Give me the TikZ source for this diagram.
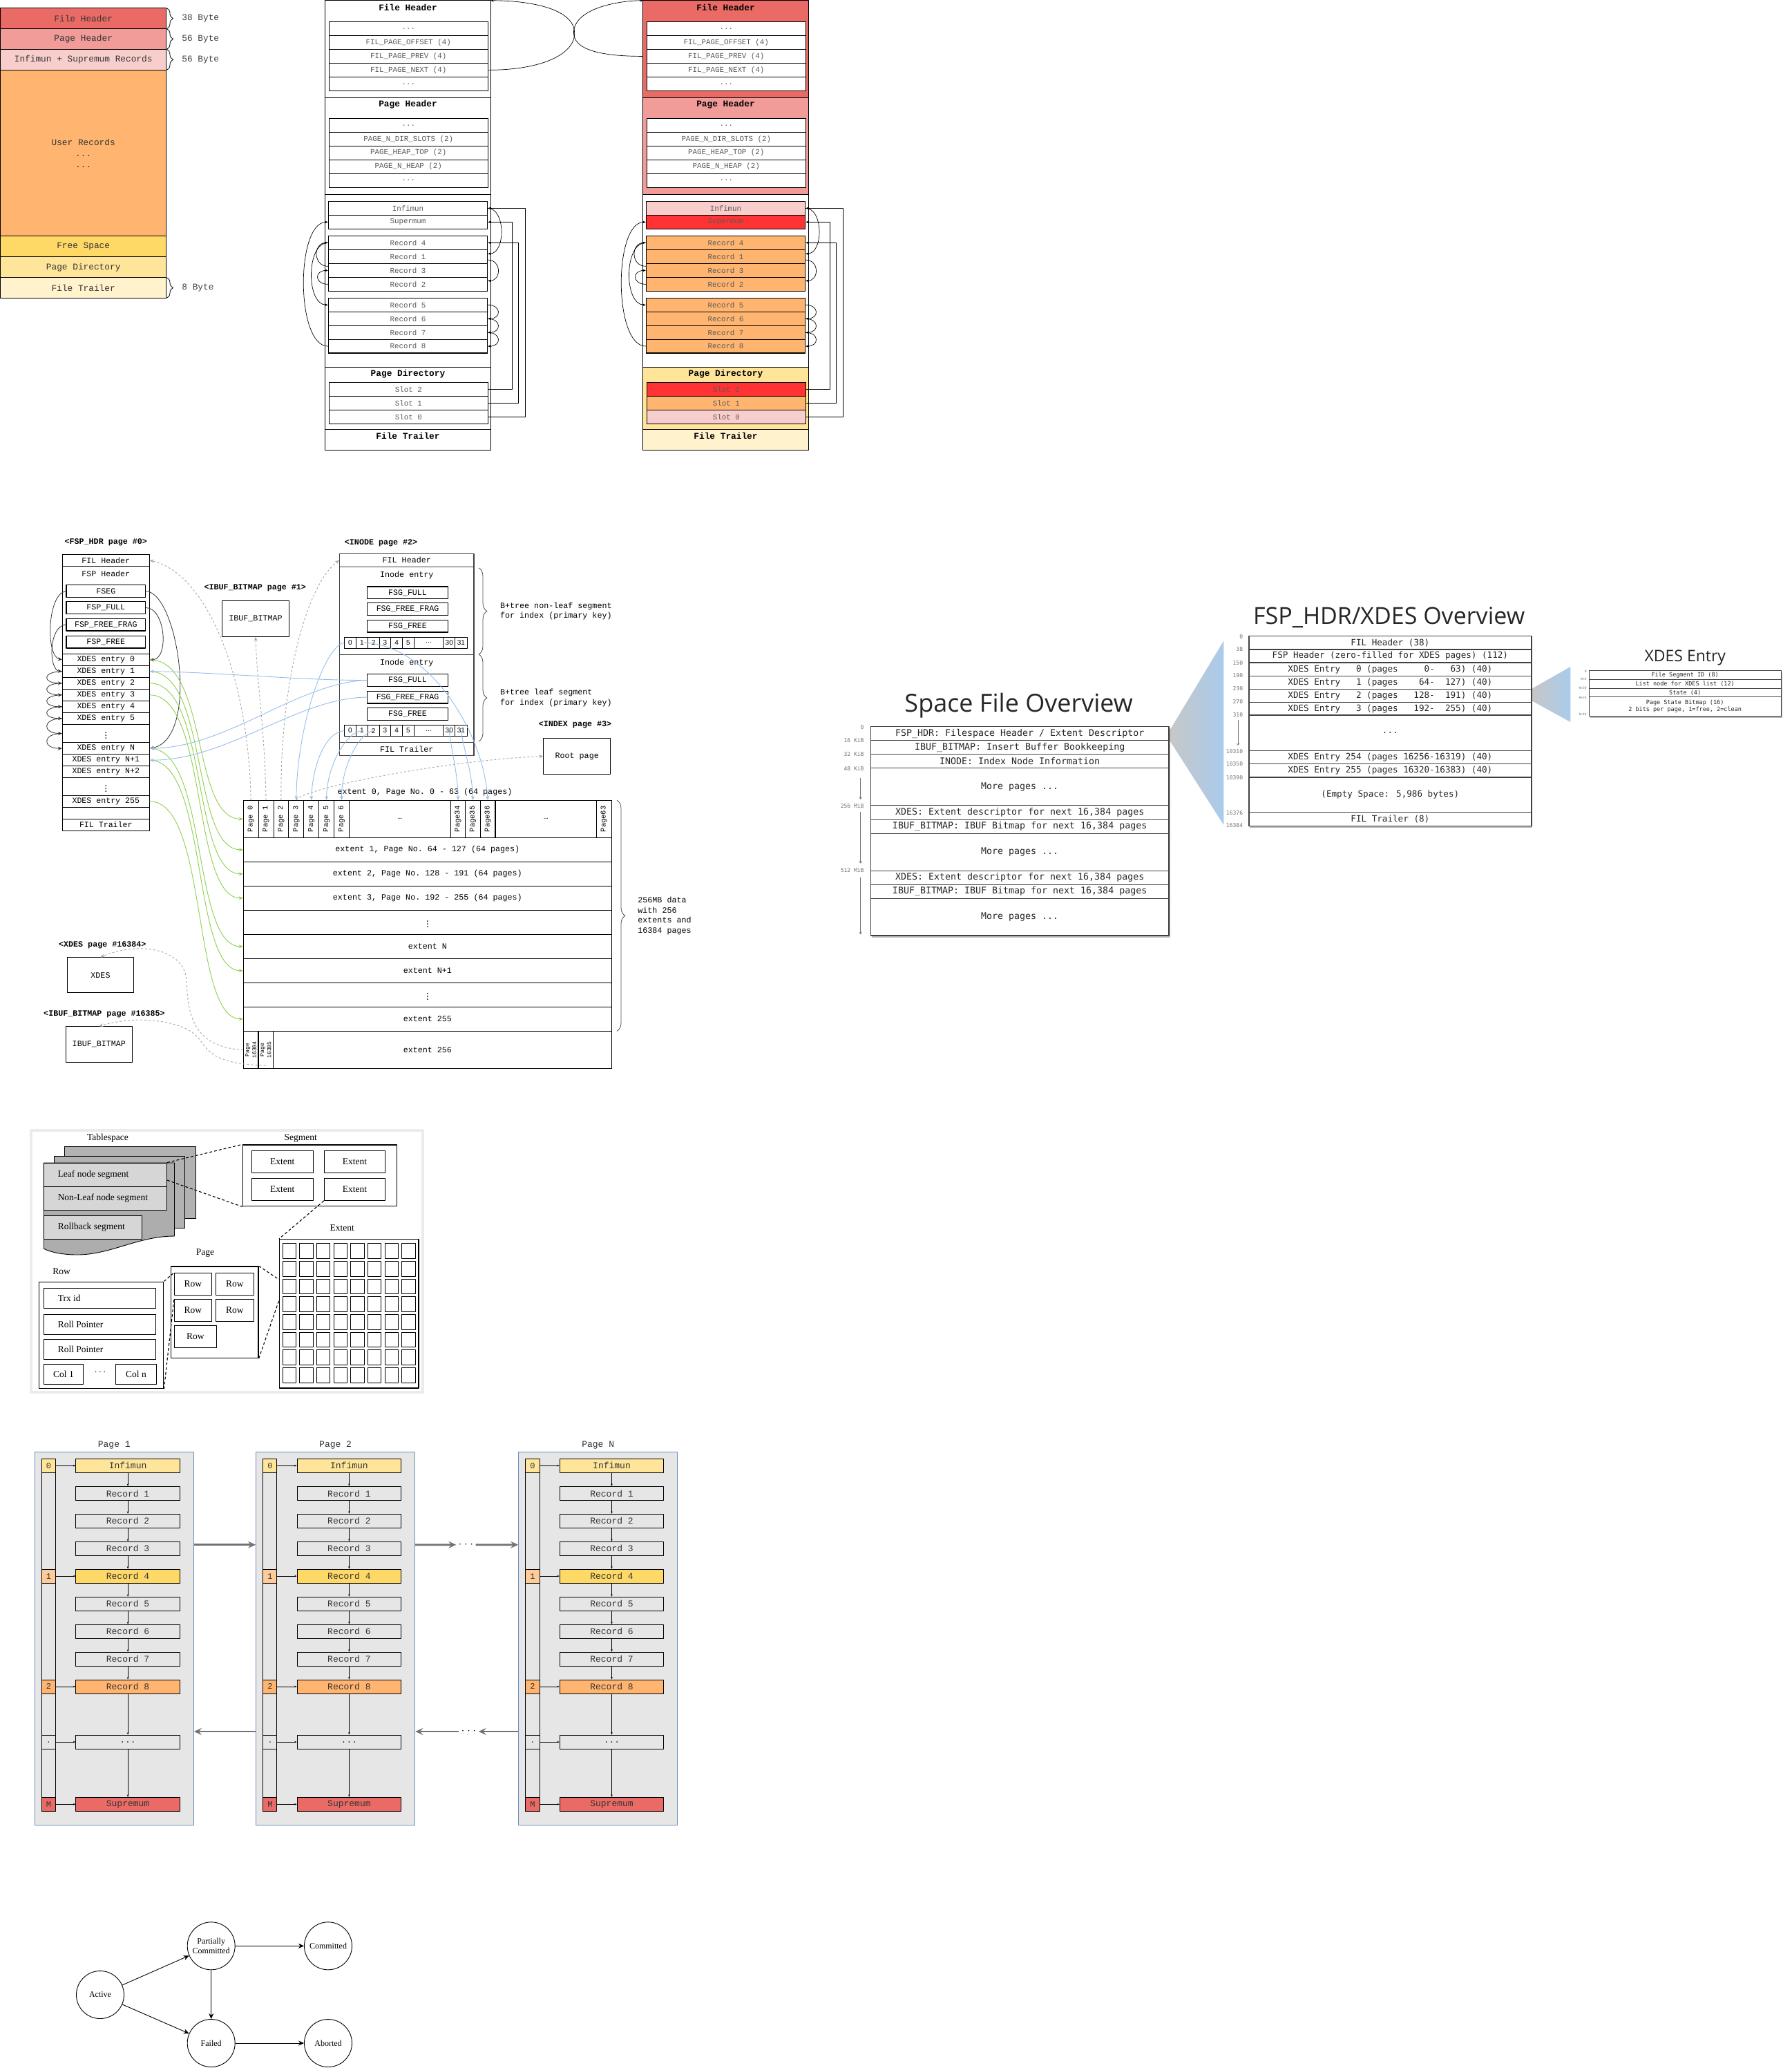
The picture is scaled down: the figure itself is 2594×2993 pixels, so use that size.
\documentclass[tikz,border=0pt]{standalone}
\usepackage{fontspec}
\usepackage{graphicx}
\setmainfont{Liberation Serif}
\setsansfont{Liberation Sans}
\setmonofont{Liberation Mono}
\newfontfamily\ovmono{DejaVu Sans Mono}
\newfontfamily\ovsans{Open Sans}
\usetikzlibrary{arrows.meta,decorations.pathreplacing,shadows,calc,positioning}

\newcommand\fsz[2]{\fontsize{#1}{#2}\selectfont}

% colours
\definecolor{fhred}{HTML}{EA6B66}
\definecolor{phred}{HTML}{F19C99}
\definecolor{recpink}{HTML}{F8CECC}
\definecolor{usrorange}{HTML}{FFB570}
\definecolor{freeyel}{HTML}{FFD966}
\definecolor{diryel}{HTML}{FFE599}
\definecolor{trlyel}{HTML}{FFF2CC}
\definecolor{hotred}{HTML}{FF3333}
\definecolor{slotorange}{HTML}{FFCC99}
\definecolor{lnkgreen}{HTML}{8DD04A}
\definecolor{lnkblue}{HTML}{94BFEA}
\definecolor{fadeblue}{HTML}{A9CBEC}
\definecolor{pgbg}{HTML}{E6E6E6}
\definecolor{pgedge}{HTML}{6C8EBF}

\tikzset{
  % page layout strip
  barlbl/.style={font=\fsz{12.8}{16}\ttfamily, text=black!80, inner sep=0, align=center},
  bytebrace/.style={decorate, decoration={brace, amplitude=9pt}, line width=0.8},
  % index page (fills are switched per page)
  fhfill/.style={}, phfill/.style={}, pdfill/.style={}, ftfill/.style={},
  infcol/.style={}, supcol/.style={}, reccol/.style={},
  s2col/.style={}, s1col/.style={}, s0col/.style={},
  sectitle/.style={font=\fsz{12.8}{14}\ttfamily\bfseries, inner sep=0},
  hrow/.style={draw, fill=white, minimum width=230, minimum height=19.9, inner sep=0, font=\fsz{10.8}{12}\ttfamily, text=black!65},
  ptr/.style={-{Stealth[length=4.5pt,width=3.5pt]}, line width=0.7},
  % space management pages
  pglbl/.style={font=\fsz{11.7}{13}\ttfamily\bfseries, inner sep=0},
  xrow/.style={draw, minimum width=126, inner sep=0, font=\fsz{11.6}{13}\ttfamily},
  ibox/.style={draw, line width=1.2, minimum width=114.7, minimum height=17.8, inner sep=0, font=\fsz{11.6}{13}\ttfamily},
  irow/.style={draw=black!75, line width=1.2, minimum width=194.3, inner sep=0, font=\fsz{11.7}{13}\ttfamily},
  fragcell/.style={draw, minimum height=15.7, inner sep=0, font=\fsz{10}{11}\sffamily},
  erow/.style={draw, minimum width=533.3, minimum height=35, inner sep=0, font=\fsz{11.7}{13}\ttfamily},
  pcol/.style={draw, minimum width=21.9, minimum height=54, inner sep=0, font=\fsz{10.5}{11}\ttfamily},
  plainbox/.style={draw, inner sep=0, font=\fsz{11.7}{13}\ttfamily},
  sidenote/.style={font=\fsz{11.7}{14.5}\ttfamily, align=left, inner sep=0},
  sidebrace/.style={decorate, decoration={brace, amplitude=12pt}, draw=black!70, line width=0.8},
  dkptr/.style={-{Stealth[length=6pt,width=5pt]}, draw=black!80, line width=0.8},
  grnptr/.style={-{Stealth[length=6pt,width=5pt]}, draw=lnkgreen, line width=0.9},
  bluptr/.style={-{Stealth[length=6pt,width=5pt]}, draw=lnkblue, line width=0.9},
  gryptr/.style={-{Stealth[length=6pt,width=5pt]}, draw=black!35, dashed, line width=0.9},
  % overview slides
  bigttl/.style={inner sep=0, text=black!85},
  ovbox/.style={draw=black!75, line width=1.4, fill=white, inner sep=0, drop shadow={shadow xshift=1.5pt, shadow yshift=-2.5pt, opacity=0.55}},
  ovrow/.style={draw=black!75, line width=1.1, inner sep=0, text=black!85},
  offlbl/.style={font=\fsz{8}{9}\ovmono, text=black!55, inner sep=0},
  offarr/.style={-{Straight Barb[length=3pt,width=4pt]}, draw=black!55, line width=0.6},
  % tablespace sketch
  tsl/.style={font=\fsz{13.5}{15}\rmfamily, inner sep=0},
  tsbox/.style={draw, line width=1, inner sep=0, font=\fsz{13.5}{15}\rmfamily},
  tsdash/.style={line width=1.1, dash pattern=on 4pt off 3pt},
  % page chain
  chttl/.style={font=\fsz{13}{14}\ttfamily, text=black!80, inner sep=0},
  chbox/.style={draw=pgedge, fill=pgbg, minimum width=230.2, minimum height=540.2, inner sep=0},
  chrec/.style={draw, minimum width=150.4, minimum height=20, inner sep=0, font=\fsz{13}{14}\ttfamily, text=black!80},
  chslot/.style={draw, minimum width=20.1, minimum height=20, inner sep=0, font=\fsz{12}{13}\ttfamily, text=black!80},
  chptr/.style={-{Stealth[length=3.5pt,width=2.5pt]}, line width=0.6},
  bigarr/.style={-{Stealth[length=11pt,width=10pt,inset=4pt]}, draw=black!55, line width=2.6},
  % transaction states
  txstate/.style={circle, draw, minimum size=69, inner sep=0, align=center, font=\fsz{12}{13.5}\rmfamily},
  stptr/.style={-{Stealth[length=8pt,width=7pt]}, line width=0.9}
}

% one index page with its record list and page directory
\newcommand\idxpage[1]{%
  \draw[fhfill] (470.7,0.8) rectangle (710.3,141.4);
  \draw[phfill] (470.7,141.4) rectangle (710.3,281.6);
  \draw (470.7,281.6) rectangle (710.3,531.6);
  \draw[pdfill] (470.7,531.6) rectangle (710.3,621.3);
  \draw[ftfill] (470.7,621.3) rectangle (710.3,651.1);
  \coordinate (#1tl) at (470.7,0.8);
  \coordinate (#1tr) at (710.3,0.8);
  \node[sectitle] (#1fh) at (590.5,10.9) {File Header};
  \node[sectitle] (#1ph) at (590.5,151.1) {Page Header};
  \node[sectitle] (#1pd) at (590.5,541.3) {Page Directory};
  \node[sectitle] (#1ft) at (590.5,631.4) {File Trailer};
  \foreach \nm/\txt [count=\ii from 0] in {fa/{...}, off/FIL\_PAGE\_OFFSET (4), prev/FIL\_PAGE\_PREV (4), next/FIL\_PAGE\_NEXT (4), fb/{...}}
    \node[hrow] (#1\nm) at (591.3,41.55+19.94*\ii) {\txt};
  \foreach \nm/\txt [count=\ii from 0] in {pa/{...}, slots/PAGE\_N\_DIR\_SLOTS (2), top/PAGE\_HEAP\_TOP (2), heap/PAGE\_N\_HEAP (2), pb/{...}}
    \node[hrow] (#1\nm) at (591.3,181.3+19.94*\ii) {\txt};
  \foreach \nm/\txt/\yy/\stl in {inf/Infimun/301.4/infcol, sup/Supermum/321.4/supcol, r4/Record 4/351.3/reccol, r1/Record 1/371.2/reccol, r3/Record 3/391.4/reccol, r2/Record 2/411.4/reccol, r5/Record 5/441.3/reccol, r6/Record 6/461.3/reccol, r7/Record 7/481.3/reccol, r8/Record 8/501.1/reccol}
    \node[hrow, minimum width=230.4, \stl] (#1\nm) at (590.5,\yy) {\txt};
  \foreach \nm/\txt/\yy/\stl in {s2/Slot 2/563.4/s2col, s1/Slot 1/583.4/s1col, s0/Slot 0/603.4/s0col}
    \node[hrow, \stl] (#1\nm) at (591.3,\yy) {\txt};
  \draw[line width=1.2] (476.3,31.6) rectangle (706.3,131.3) (476.3,171.3) rectangle (706.3,271.5)
    (475.3,291.3) rectangle (705.7,331.3) (475.3,341.4) rectangle (705.7,421.3)
    (475.3,431.4) rectangle (705.7,511) (476.3,553.5) rectangle (706.3,613.3);
  % directory slots
  \draw[ptr] (#1s2.east) -- ++(34.4,0) |- (#1sup.east);
  \draw[ptr] (#1s1.east) -- ++(44,0) |- (#1r4.east);
  \draw[ptr] (#1s0.east) -- ++(54,0) |- (#1inf.east);
  % record list
  \draw[ptr] (#1inf.east) .. controls +(26,0) and +(26,0) .. ([yshift=4pt]#1r1.east);
  \draw[ptr] ([yshift=-5pt]#1r1.east) .. controls +(20,0) and +(20,0) .. ([yshift=5pt]#1r2.east);
  \draw[ptr] (#1r2.west) .. controls +(-20,0) and +(-20,0) .. (#1r3.west);
  \draw[ptr] ([yshift=6pt]#1r3.west) .. controls +(-22,0) and +(-22,0) .. (#1r4.west);
  \draw[ptr] (#1r4.west) .. controls +(-32,0) and +(-32,0) .. (#1r5.west);
  \draw[ptr] (#1r5.east) .. controls +(20,0) and +(20,0) .. (#1r6.east);
  \draw[ptr] (#1r6.east) .. controls +(20,0) and +(20,0) .. (#1r7.east);
  \draw[ptr] (#1r7.east) .. controls +(20,0) and +(20,0) .. (#1r8.east);
  \draw[ptr] (#1r8.west) .. controls +(-47,0) and +(-47,0) .. (#1sup.west);
}

% one page of the leaf level with its slots
\newcommand\pagechain[3]{%
  \begin{scope}[shift={(#1,0)}]
    \node[chttl] (#2ttl) at (165.3,2091.4) {#3};
    \node[chbox] (#2box) at (165.3,2371.6) {};
    \draw (60.5,2111.2) rectangle (80.6,2621.3);
    \foreach \nm/\txt/\yy/\cl in {inf/Infimun/2121.2/diryel, r1/Record 1/2161.35/pgbg, r2/Record 2/2201.3/pgbg, r3/Record 3/2241.3/pgbg, r4/Record 4/2281.05/freeyel, r5/Record 5/2321.25/pgbg, r6/Record 6/2361.2/pgbg, r7/Record 7/2401.15/pgbg, r8/Record 8/2440.95/usrorange, dd/{...}/2521.1/pgbg, sup/Supremum/2611.25/fhred}
      \node[chrec, fill=\cl] (#2\nm) at (185.1,\yy) {\txt};
    \foreach \src/\dst in {inf/r1, r1/r2, r2/r3, r3/r4, r4/r5, r5/r6, r6/r7, r7/r8, r8/dd, dd/sup}
      \draw[chptr] (#2\src) -- (#2\dst);
    \foreach \nm/\txt/\yy/\cl/\dst in {s0/0/2121.2/diryel/inf, s1/1/2281.05/slotorange/r4, s2/2/2440.95/usrorange/r8, sd/./2521.1/pgbg/dd, sM/M/2611.25/fhred/sup}
      {\node[chslot, fill=\cl] (#2\nm) at (70.55,\yy) {\txt};
       \draw[chptr] (#2\nm) -- (#2\dst);}
  \end{scope}}

\begin{document}
\begin{tikzpicture}[x=1pt, y=-1pt, line width=0.9, line join=round]
\fill[white] (0,0) rectangle (2594,2993);
\useasboundingbox (0,0) rectangle (2594,2993);

%%%%% PAGE LAYOUT %%%%%
\foreach \ya/\yb/\cl/\txt [count=\ii] in {11.7/41.7/fhred/File Header, 41.7/71.3/phred/Page Header, 71.3/101.3/recpink/Infimun + Supremum Records, 101.3/341.7/usrorange/{User Records\\...\\...}, 341.7/371.7/freeyel/Free Space, 371.7/401.7/diryel/Page Directory, 401.7/431.3/trlyel/File Trailer}
{
  \draw[fill=\cl] (0.7,\ya) rectangle (240.7,\yb);
  \node[barlbl] (bar\ii) at (120.7,{(\ya+\yb)/2}) {\txt};
}
\foreach \ya/\yb/\txt in {11.7/41.7/38 Byte, 41.7/71.3/56 Byte, 71.3/101.3/56 Byte, 401.7/431.3/8 Byte}
  \draw[bytebrace] (241.5,\ya) -- (241.5,\yb) node[midway, anchor=west, xshift=21.5pt, barlbl, text=black!75] {\txt};

%%%%% TWO INDEX PAGES %%%%%
\idxpage{L}
\begin{scope}[shift={(460,0)}, fhfill/.style={fill=fhred}, phfill/.style={fill=phred}, pdfill/.style={fill=diryel}, ftfill/.style={fill=trlyel}, infcol/.style={fill=recpink}, supcol/.style={fill=hotred}, reccol/.style={fill=usrorange}, s2col/.style={fill=hotred}, s1col/.style={fill=usrorange}, s0col/.style={fill=recpink}]
  \idxpage{R}
\end{scope}
\draw[ptr] (Lnext.east) .. controls (790,101.4) and (838,75) .. (831,42) .. controls (824,10) and (760,0.8) .. (Ltr);
\draw[ptr] (Rprev.west -| Rtl) .. controls (880,81.5) and (824,75) .. (831,42) .. controls (838,10) and (900,0.8) .. (Rtl);

%%%%% FSP_HDR PAGE %%%%%
\node[pglbl] (fsplbl) at (153.3,784.7) {<FSP\_HDR page \#0>};
\node[xrow, minimum height=17.4] (xfil) at (153.3,811) {FIL Header};
\node[xrow, minimum height=126.6] (xfsp) at (153.3,883) {};
\node[inner sep=0, font=\fsz{11.6}{13}\ttfamily] (xfspt) at (153.3,830.7) {FSP Header};
\foreach \nm/\txt/\yy in {fseg/FSEG/855.5, ffull/FSP\_FULL/879.5, ffrag/FSP\_FREE\_FRAG/904, ffree/FSP\_FREE/929}
  \node[ibox] (\nm) at (153.3,\yy) {\txt};
\foreach \nm/\txt/\yy/\hh in {x0/XDES entry 0/954.8/17, x1/XDES entry 1/971.8/17, x2/XDES entry 2/988.8/17, x3/XDES entry 3/1005.8/17, x4/XDES entry 4/1022.8/17, x5/XDES entry 5/1039.8/17, xd1/\vdots/1061.5/26.4, xN/XDES entry N/1083.2/17, xN1/XDES entry N+1/1100.2/17, xN2/XDES entry N+2/1117.2/17, xd2/\vdots/1138.5/25.6, x255/XDES entry 255/1159.8/17, xb//1176.8/17, xtr/FIL Trailer/1193.8/17}
  \node[xrow, minimum height=\hh] (\nm) at (153.3,\yy) {\txt};
\draw[dkptr] (fseg.west) .. controls (68,860) and (66,950) .. (x0.west);
\draw[dkptr] (ffrag.west) .. controls (70,906) and (70,970) .. (x1.west);
\draw[dkptr] (fseg.east) .. controls (258,858) and (290,1070) .. (xN.east);
\draw[dkptr] (ffull.east) .. controls (240,880) and (245,955) .. (x0.east);
\foreach \src/\dst in {x1/x2, x2/x3, x3/x4, x4/x5, x5/xd1, xd1/xN}
  \draw[dkptr] (\src.west) .. controls +(-29,0) and +(-29,0) .. (\dst.west);

%%%%% IBUF_BITMAP / INODE / INDEX %%%%%
\node[pglbl] (ibuflbl) at (369.3,851.3) {<IBUF\_BITMAP page \#1>};
\node[plainbox, minimum width=97.4, minimum height=52.3] (ibuf) at (370,895.2) {IBUF\_BITMAP};

\node[pglbl] (inolbl) at (551.6,785.7) {<INODE page \#2>};
\node[irow, minimum height=19] (ifil) at (588.75,810.8) {FIL Header};
\node[irow, minimum height=127] (ino1) at (588.75,883.8) {};
\node[irow, minimum height=127.4] (ino2) at (588.75,1011) {};
\node[irow, minimum height=19] (itr) at (588.75,1084.2) {FIL Trailer};
\foreach \kk/\yy in {1/832, 2/959.7}
  \node[inner sep=0, font=\fsz{11.7}{13}\ttfamily] (inot\kk) at (588.75,\yy) {Inode entry};
\foreach \kk/\ya/\yb/\yc/\yv in {1/857.9/881.5/906/930.2, 2/984.5/1009/1033.5/1057.5} {
  \node[ibox, minimum width=116.6] (ifull\kk) at (590,\ya) {FSG\_FULL};
  \node[ibox, minimum width=116.6] (ifrag\kk) at (590,\yb) {FSG\_FREE\_FRAG};
  \node[ibox, minimum width=116.6] (ifree\kk) at (590,\yc) {FSG\_FREE};
  \foreach \nm/\xx/\ww/\txt in {0/507/16.8/0, 1/523.8/16.8/1, 2/540.6/16.8/2, 3/557.4/16.8/3, 4/574.2/16.8/4, 5/591/16.8/5, d/620.55/42.3/{…}, 30/650.3/17.2/30, 31/667.45/17.1/31}
    \node[fragcell, minimum width=\ww] (a\kk-\nm) at (\xx,\yv) {\txt};
}
\draw[sidebrace] (693,822) -- (693,947) node[midway, anchor=west, xshift=30.7pt, sidenote] {B+tree non-leaf segment\\for index (primary key)};
\draw[sidebrace] (693,947) -- (693,1073) node[midway, anchor=west, xshift=30.7pt, sidenote] {B+tree leaf segment\\for index (primary key)};

\node[pglbl, anchor=east] (rootlbl) at (885.6,1049) {<INDEX page \#3>};
\node[plainbox, minimum width=97.2, minimum height=51.6] (root) at (835.2,1094.5) {Root page};

%%%%% EXTENTS %%%%%
\node[inner sep=0, font=\fsz{11.7}{13}\ttfamily] (e0lbl) at (615,1146.3) {extent 0, Page No. 0 - 63 (64 pages)};
\node[erow, minimum height=54] (e0) at (618.85,1185.3) {};
\foreach \nm/\txt/\yy in {e1/extent 1{,} Page No. 64 - 127 (64 pages)/1229.8, e2/extent 2{,} Page No. 128 - 191 (64 pages)/1264.8, e3/extent 3{,} Page No. 192 - 255 (64 pages)/1299.8, ed1/\vdots/1334.8, eN/extent N/1369.8, eN1/extent N+1/1404.8, ed2/\vdots/1439.8, e255/extent 255/1474.8}
  \node[erow] (\nm) at (618.85,\yy) {\txt};
\node[erow, minimum height=54.4] (e256) at (618.85,1519.5) {extent 256};
\foreach \kk in {0,...,6}
  \node[pcol] (p\kk) at ({363.15+21.9*\kk},1185.3) {\rotatebox{90}{Page \kk}};
\foreach \kk/\xx in {34/663.05, 35/684.55, 36/706.1}
  \node[pcol, minimum width=21.6] (p\kk) at (\xx,1185.3) {\rotatebox{90}{Page\kk}};
\node[pcol, minimum width=146.8] (pd1) at (578.9,1185.3) {…};
\node[pcol, minimum width=145.9] (pd2) at (790.15,1185.3) {…};
\node[pcol, minimum width=22.4] (p63) at (874.3,1185.3) {\rotatebox{90}{Page63}};
\node[pcol, minimum height=54.4, font=\fsz{8.2}{9}\ttfamily] (p16384) at (363.15,1519.5) {\rotatebox{90}{\shortstack{Page\\16384}}};
\node[pcol, minimum height=54.4, font=\fsz{8.2}{9}\ttfamily] (p16385) at (384.6,1519.5) {\rotatebox{90}{\shortstack{Page\\16385}}};
\draw[sidebrace] (893,1158.3) -- (893,1492.3) node[midway, anchor=west, xshift=30pt, sidenote] {256MB data\\with 256\\extents and\\16384 pages};

\node[pglbl] (xdeslbl) at (148.3,1368.3) {<XDES page \#16384>};
\node[plainbox, minimum width=96.4, minimum height=51] (xdes) at (145.5,1411.2) {XDES};
\node[pglbl] (ibuf2lbl) at (151,1467.7) {<IBUF\_BITMAP page \#16385>};
\node[plainbox, minimum width=96.7, minimum height=51.6] (ibuf2) at (143.35,1511.5) {IBUF\_BITMAP};

% descriptors to extents
\foreach \src/\dst in {x0/e0, x1/e1, x2/e2, x3/e3, xN/eN, xN1/eN1, x255/e255}
  \draw[grnptr] (\src.east) .. controls +(85,0) and +(-75,0) .. (\dst.west);
% segments to descriptors and pages
\draw[bluptr] (ifull2.west) .. controls (440,985) and (300,972) .. (x1.east);
\draw[bluptr] (ifull2.west) .. controls (430,988) and (330,1082) .. (xN.east);
\draw[bluptr] (ifrag2.west) .. controls (430,1010) and (330,1100) .. (xN1.east);
\draw[bluptr] (a1-0.west) .. controls (470,935) and (430,1050) .. (p3.north);
\draw[bluptr] (a1-1.center) .. controls (620,930) and (700,1060) .. (p36.north);
\draw[bluptr] (a2-0.west) .. controls (470,1060) and (452,1110) .. (p4.north);
\draw[bluptr] (a2-1.center) .. controls (500,1060) and (473,1110) .. (p5.north);
\draw[bluptr] (a2-2.center) .. controls (520,1060) and (494,1110) .. (p6.north);
\draw[bluptr] (a2-30.center) .. controls (652,1080) and (663,1120) .. (p34.north);
\draw[bluptr] (a2-31.center) .. controls (670,1080) and (684,1120) .. (p35.north);
% pages to their page objects
\draw[gryptr] (p0.north) .. controls (360,980) and (300,830) .. (xfil.east);
\draw[gryptr] (p1.north) .. controls (383,1050) and (372,990) .. (ibuf.south);
\draw[gryptr] (p2.north) .. controls (405,1000) and (440,850) .. (ifil.west);
\draw[gryptr] (p3.north) .. controls (440,1140) and (650,1100) .. (root.west);
\draw[gryptr] (p16384.west) .. controls (280,1515) and (272,1470) .. (270,1420) .. controls (268,1372) and (200,1362) .. (xdes.north);
\draw[gryptr] ([yshift=5pt]p16385.south) .. controls (300,1540) and (300,1515) .. (285,1500) .. controls (265,1478) and (200,1468) .. (ibuf2.north);

%%%%% SPACE FILE OVERVIEW %%%%%
\shade[left color=black!22, right color=fadeblue] (1692,1059) -- (1771.4,927.3) -- (1771.4,1194) -- (1692,1070) -- cycle;
\shade[left color=black!22, right color=fadeblue] (2216.8,997) -- (2273.3,965) -- (2273.3,1045) -- (2216.8,1014) -- cycle;

\node[bigttl, font=\fsz{36}{40}\ovsans] (sfottl) at (1474.7,1021.3) {Space File Overview};
\node[ovbox, minimum width=431.7, minimum height=302.7] (sfo) at (1476.15,1202.65) {};
\foreach \nm/\yy/\hh/\txt in {sfo1/1061.5/20.4/{FSP\_HDR: Filespace Header / Extent Descriptor},
  sfo2/1081.7/20/{IBUF\_BITMAP: Insert Buffer Bookkeeping},
  sfo3/1101.7/20/{INODE: Index Node Information},
  sfo4/1138.7/54/{More pages ...},
  sfo5/1176/20.6/{XDES: Extent descriptor for next 16,384 pages},
  sfo6/1196.3/20/{IBUF\_BITMAP: IBUF Bitmap for next 16,384 pages},
  sfo7/1233.3/54/{More pages ...},
  sfo8/1270.3/20/{XDES: Extent descriptor for next 16,384 pages},
  sfo9/1290.3/20/{IBUF\_BITMAP: IBUF Bitmap for next 16,384 pages},
  sfo10/1327.15/53.7/{More pages ...}}
  \node[ovrow, minimum width=431.7, minimum height=\hh, font=\fsz{13.3}{15}\ovmono] (\nm) at (1476.15,\yy) {\txt};
\foreach \txt/\yy in {0/1053, 16 KiB/1071.3, 32 KiB/1092, 48 KiB/1112.3, 256 MiB/1167, 512 MiB/1259.7}
  \node[offlbl, anchor=east] at (1251,\yy) {\txt};
\foreach \ya/\yb in {1125.7/1157, 1175/1249.7, 1270/1352.3}
  \draw[offarr] (1245.7,\ya) -- (1245.7,\yb);

%%%%% FSP_HDR/XDES OVERVIEW %%%%%
\node[bigttl, font=\fsz{34}{38}\ovsans] (fxottl) at (2010.7,894) {FSP\_HDR/XDES Overview};
\node[ovbox, minimum width=408.9, minimum height=275] (fxo) at (2012.35,1058.2) {};
\foreach \nm/\yy/\hh/\txt in {fx1/930.35/19.3/{FIL Header (38)},
  fx2/949.5/19/{FSP Header (zero-filled for XDES pages) (112)},
  fx3/968.65/19.3/{XDES Entry~~~0 (pages~~~~~0-~~~63) (40)},
  fx4/987.8/19/{XDES Entry~~~1 (pages~~~~64-~~127) (40)},
  fx5/1006.8/19/{XDES Entry~~~2 (pages~~~128-~~191) (40)},
  fx6/1025.65/18.7/{XDES Entry~~~3 (pages~~~192-~~255) (40)},
  fx7/1060.65/51.3/{...},
  fx8/1096/19.4/{XDES Entry 254 (pages 16256-16319) (40)},
  fx9/1115.35/19.3/{XDES Entry 255 (pages 16320-16383) (40)},
  fx10/1150.35/50.7/{(Empty Space: 5,986 bytes)},
  fx11/1185.7/20/{FIL Trailer (8)}}
  \node[ovrow, minimum width=408.9, minimum height=\hh, font=\fsz{12.6}{14}\ovmono] (\nm) at (2012.35,\yy) {\txt};
\foreach \txt/\yy in {0/921.7, 38/940, 150/959.3, 190/978, 230/997, 270/1016, 310/1035, 10310/1087.7, 10350/1106, 10390/1125.7, 16376/1176.3, 16384/1194.7}
  \node[offlbl, anchor=east] at (1799.5,\yy) {\txt};
\draw[offarr] (1792,1042.3) -- (1792,1079);

%%%%% XDES ENTRY %%%%%
\node[bigttl, font=\fsz{23}{26}\ovsans] (xettl) at (2439.3,951.7) {XDES Entry};
\node[ovbox, line width=1, minimum width=278.3, minimum height=65.3] (xeo) at (2439.15,1003.35) {};
\foreach \nm/\yy/\hh/\txt in {xe1/977/12.6/{File Segment ID (8)},
  xe2/989.65/12.7/{List node for XDES list (12)},
  xe3/1002.35/12.7/{State (4)},
  xe4/1022.35/27.3/{Page State Bitmap (16)\\2 bits per page, 1=free, 2=clean}}
  \node[ovrow, line width=0.8, align=center, minimum width=278.3, minimum height=\hh, font=\fsz{8.5}{10.5}\ovmono] (\nm) at (2439.15,\yy) {\txt};
\foreach \txt/\yy in {N/971.7, N+8/983.3, N+20/996, N+24/1010, N+40/1034.3}
  \node[offlbl, anchor=east, font=\fsz{4.5}{5}\ovmono] at (2297,\yy) {\txt};

%%%%% TABLESPACE SKETCH %%%%%
\draw[draw=black!8, line width=4, fill=white] (45.4,1636.3) rectangle (611.5,2014.7);
\node[tsl] (tslbl) at (156,1647) {Tablespace};
\draw[fill=black!30] (93.7,1659.7) rectangle (283,1763);
\draw[fill=black!30] (78.8,1673) rectangle (267,1777);
\draw[fill=black!32] (63.2,1683) -- (252.5,1683) -- (252.5,1789) .. controls (200,1789) and (160,1816) .. (112,1816) .. controls (90,1816) and (72,1812) .. (63.2,1807) -- cycle;
\foreach \nm/\txt/\xx/\yy/\ww/\hh in {leaf/Leaf node segment/152.3/1700/178.2/34, nonleaf/Non-Leaf node segment/152.3/1734.15/178.2/34.3, rollb/Rollback segment/134.1/1776.7/141.8/34}
{
  \node[tsbox, fill=black!16, minimum width=\ww, minimum height=\hh] (\nm) at (\xx,\yy) {};
  \node[tsl, anchor=west] at (83.3,\yy) {\txt};
}
\node[tsl] (seglbl) at (435.2,1647) {Segment};
\node[tsbox, line width=1.5, minimum width=222.7, minimum height=88.7] (seg) at (463.05,1701.35) {};
\foreach \nm/\xx/\yy in {sa/408.85/1681.15, sb/513.5/1681.15, sc/408.85/1721.5, sd/513.5/1721.5}
  \node[tsbox, minimum width=88.3, minimum height=31.7] (\nm) at (\xx,\yy) {Extent};
\draw[tsdash] (leaf.north east) -- (seg.north west);
\draw[tsdash] ([yshift=-8pt]leaf.east) -- (seg.south west);

\node[tsl] (extlbl) at (495.3,1777) {Extent};
\node[tsbox, line width=1.5, minimum width=201.2, minimum height=215.3] (grid) at (505.3,1901.35) {};
\foreach \ii in {0,...,7}
  \foreach \jj in {0,...,7}
    \draw (409.2+24.66*\ii,1799.7+25.7*\jj) rectangle ++(19.3,21.7);
\draw[tsdash] (sd.south west) -- (grid.north west);

\node[tsl] (pglbl2) at (297.1,1814) {Page};
\node[tsbox, line width=1.5, minimum width=126.2, minimum height=132.3] (pg) at (310.8,1899.15) {};
\foreach \nm/\xx/\yy/\ww in {ra/279.25/1858.5/53.5, rb/339.95/1858.5/54.5, rc/279.25/1896.3/53.5, rd/339.95/1896.3/54.5, re/282.95/1934.35/60.9}
  \node[tsbox, minimum width=\ww, minimum height=32.3] (\nm) at (\xx,\yy) {Row};
\coordinate (gc1) at (404.7,1852.3);
\coordinate (gc2) at (404.7,1879.7);
\draw[tsdash] (pg.north east) -- (gc1);
\draw[tsdash] (pg.south east) -- (gc2);

\node[tsl] (rowlbl) at (89.2,1839.7) {Row};
\node[tsbox, line width=1.5, minimum width=180, minimum height=154.4] (rowbox) at (146.6,1932.5) {};
\foreach \nm/\txt/\yy in {trx/Trx id/1879.2, rp1/Roll Pointer/1917.3, rp2/Roll Pointer/1952.65}
{
  \node[tsbox, minimum width=162.3, minimum height=29.3] (\nm) at (144.35,\yy) {};
  \node[tsl, anchor=west] at (83.3,\yy) {\txt};
}
\node[tsbox, minimum width=57.6, minimum height=29] (col1) at (92,1988.5) {Col 1};
\node[tsl] (coldots) at (144.9,1986) {$\cdots$};
\node[tsbox, minimum width=58.3, minimum height=29] (coln) at (197.05,1988.5) {Col n};
\draw[tsdash] (rowbox.north east) -- (ra.north west);
\draw[tsdash] (rowbox.south east) -- (rc.north west);

%%%%% PAGE CHAIN %%%%%
\pagechain{0}{pa}{Page 1}
\pagechain{320.3}{pb}{Page 2}
\pagechain{700.4}{pn}{Page N}
\node[inner sep=4pt, font=\fsz{7}{7}] (dt) at (674.4,2235.7) {\textbullet\hspace{6pt}\textbullet\hspace{6pt}\textbullet};
\node[inner sep=4pt, font=\fsz{7}{7}] (db) at (678.5,2506) {\textbullet\hspace{6pt}\textbullet\hspace{6pt}\textbullet};
\draw[bigarr] ([yshift=135.9pt]pabox.east) -- ([yshift=135.9pt]pbbox.west);
\draw[bigarr] ([yshift=135.9pt]pbbox.east) -- (dt.west);
\draw[bigarr] (dt.east) -- ([yshift=135.9pt]pnbox.west);
\draw[bigarr] ([yshift=-134.4pt]pbbox.west) -- ([yshift=-134.4pt]pabox.east);
\draw[bigarr] ([yshift=-134.4pt]pnbox.west) -- (db.east);
\draw[bigarr] (db.west) -- ([yshift=-134.4pt]pbbox.east);

%%%%% TRANSACTION STATES %%%%%
\node[txstate] (act) at (145,2887) {Active};
\node[txstate] (pcom) at (305.7,2816.3) {Partially\\Committed};
\node[txstate] (com) at (475,2816.3) {Committed};
\node[txstate] (fail) at (305.7,2957) {Failed};
\node[txstate] (abt) at (475,2957) {Aborted};
\draw[stptr] (act) -- (pcom);
\draw[stptr] (act) -- (fail);
\draw[stptr] (pcom) -- (com);
\draw[stptr] (pcom) -- (fail);
\draw[stptr] (fail) -- (abt);

\end{tikzpicture}
\end{document}
